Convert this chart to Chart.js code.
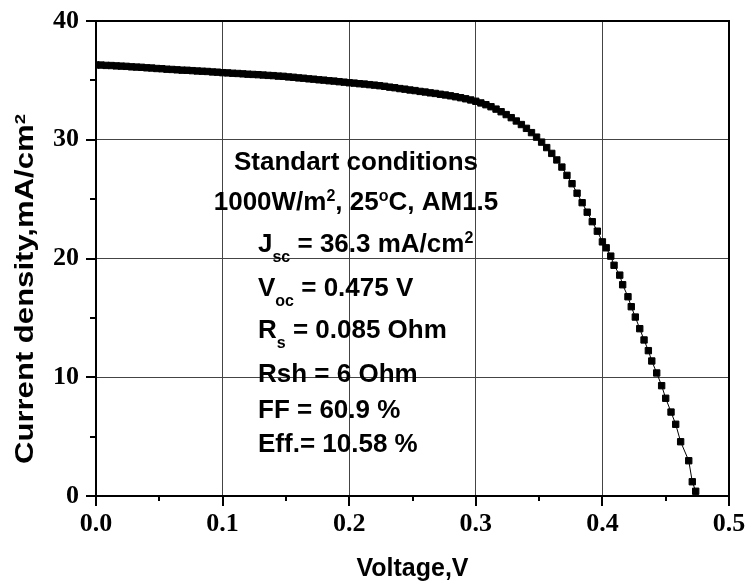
<!DOCTYPE html>
<html>
<head>
<meta charset="utf-8">
<script src="https://cdn.jsdelivr.net/npm/chart.js@4.4.0/dist/chart.umd.min.js"></script>
<style>
  body { margin: 0; background: #fff; }
  canvas { display: block; }
</style>
</head>
<body>
<canvas id="jv" width="747" height="586"></canvas>
<script>
// J-V curve
const voltage = [
  0.000, 0.004, 0.008, 0.012, 0.016, 0.020, 0.024, 0.028, 0.032, 0.036,
  0.040, 0.044, 0.048, 0.052, 0.056, 0.060, 0.064, 0.068, 0.072, 0.076,
  0.080, 0.084, 0.088, 0.092, 0.096, 0.100, 0.104, 0.108, 0.112, 0.116,
  0.120, 0.124, 0.128, 0.132, 0.136, 0.140, 0.144, 0.148, 0.152, 0.156,
  0.160, 0.164, 0.168, 0.172, 0.176, 0.180, 0.184, 0.188, 0.192, 0.196,
  0.200, 0.204, 0.208, 0.212, 0.216, 0.220, 0.224, 0.228, 0.232, 0.236,
  0.240, 0.244, 0.248, 0.252, 0.256, 0.260, 0.264, 0.268, 0.272, 0.276,
  0.280, 0.284, 0.288, 0.292, 0.296, 0.300, 0.304, 0.308, 0.312, 0.316,
  0.320, 0.324, 0.328, 0.332, 0.336, 0.340, 0.344, 0.348, 0.352, 0.356,
  0.360, 0.364, 0.368, 0.372, 0.376, 0.380, 0.384, 0.388, 0.392, 0.396,
  0.400, 0.4030, 0.4066, 0.4092, 0.4137, 0.4160, 0.4202, 0.4228, 0.4260, 0.4295,
  0.4329, 0.4363, 0.4390, 0.4429, 0.4468, 0.4500, 0.4542, 0.4579, 0.4618, 0.4682,
  0.4710, 0.4737
];
const currentDensity = [
  36.30, 36.29, 36.26, 36.25, 36.22, 36.20, 36.18, 36.14, 36.12, 36.10,
  36.06, 36.04, 36.00, 35.98, 35.94, 35.92, 35.89, 35.86, 35.85, 35.82,
  35.79, 35.77, 35.75, 35.71, 35.69, 35.65, 35.63, 35.60, 35.58, 35.55,
  35.52, 35.50, 35.48, 35.45, 35.42, 35.40, 35.36, 35.34, 35.29, 35.26,
  35.21, 35.18, 35.13, 35.10, 35.05, 35.02, 34.97, 34.94, 34.89, 34.85,
  34.80, 34.77, 34.72, 34.69, 34.64, 34.60, 34.55, 34.50, 34.43, 34.38,
  34.31, 34.26, 34.19, 34.14, 34.07, 34.02, 33.95, 33.90, 33.83, 33.77,
  33.70, 33.62, 33.54, 33.45, 33.35, 33.24, 33.10, 32.95, 32.78, 32.58,
  32.36, 32.12, 31.86, 31.58, 31.28, 30.96, 30.60, 30.22, 29.80, 29.34,
  28.85, 28.30, 27.70, 27.00, 26.30, 25.50, 24.70, 23.90, 23.10, 22.30,
  21.40, 20.90, 20.20, 19.43, 18.60, 17.79, 16.78, 15.94, 15.07, 14.09,
  13.14, 12.24, 11.37, 10.36, 9.29, 8.23, 7.07, 6.04, 4.57, 2.97,
  1.20, 0.40
];
const xTickLabels = ["0.0", "0.1", "0.2", "0.3", "0.4", "0.5"];
const yTickLabels = ["0", "10", "20", "30", "40"];
const xTitle = "Voltage,V";
const yTitle = [["Current density,mA/cm", "n"], ["2", "sup"]];
const infoLines = [
  [["Standart conditions", "n"]],
  [["1000W/m", "n"], ["2", "sup"], [", 25", "n"], ["o", "sup"], ["C, AM1.5", "n"]],
  [["J", "n"], ["sc", "sub"], [" = 36.3 mA/cm", "n"], ["2", "sup"]],
  [["V", "n"], ["oc", "sub"], [" = 0.475 V", "n"]],
  [["R", "n"], ["s", "sub"], [" = 0.085 Ohm", "n"]],
  [["Rsh = 6 Ohm", "n"]],
  [["FF = 60.9 %", "n"]],
  [["Eff.= 10.58 %", "n"]]
];

const SANS = '"Liberation Sans", Arial, sans-serif';
const SERIF = '"Liberation Serif", "Times New Roman", serif';

function isMajor(v, step) {
  return Math.abs(v / step - Math.round(v / step)) < 1e-6;
}

// text with sub/superscripts
function drawRich(ctx, parts, x, y, align, size) {
  const big = 'bold ' + size + 'px ' + SANS;
  const small = 'bold ' + Math.round(size * 0.6) + 'px ' + SANS;
  let w = richWidth(ctx, parts, size);
  let cx = align === 'center' ? x - w / 2 : x;
  ctx.textAlign = 'left';
  ctx.textBaseline = 'alphabetic';
  parts.forEach(p => {
    ctx.font = p[1] === 'n' ? big : small;
    const dy = p[1] === 'sub' ? size * 0.4 : p[1] === 'sup' ? -size * 0.34 : 0;
    ctx.fillText(p[0], cx, y + dy);
    cx += ctx.measureText(p[0]).width;
  });
}

function richWidth(ctx, parts, size) {
  let w = 0;
  parts.forEach(p => {
    ctx.font = 'bold ' + (p[1] === 'n' ? size : Math.round(size * 0.6)) + 'px ' + SANS;
    w += ctx.measureText(p[0]).width;
  });
  return w;
}

// fixed axis box, no extra room for overhanging labels
function fixBox(s, w, h) {
  if (w) s.width = w;
  if (h) s.height = h;
  s.paddingTop = 0; s.paddingBottom = 0; s.paddingLeft = 0; s.paddingRight = 0;
}

const framePlugin = {
  id: 'frame',
  afterDraw(chart) {
    const ctx = chart.ctx, a = chart.chartArea;
    const xs = chart.scales.x, ys = chart.scales.y;
    ctx.save();
    ctx.strokeStyle = '#000';
    ctx.lineWidth = 2;
    ctx.strokeRect(a.left, a.top, a.right - a.left, a.bottom - a.top);

    // outward ticks, long at labelled values
    ctx.beginPath();
    xs.ticks.forEach(t => {
      const px = Math.round(xs.getPixelForValue(t.value));
      const len = isMajor(t.value, 0.1) ? 10 : 5;
      ctx.moveTo(px, a.bottom);
      ctx.lineTo(px, a.bottom + len);
    });
    ys.ticks.forEach(t => {
      const py = Math.round(ys.getPixelForValue(t.value));
      const len = isMajor(t.value, 10) ? 10 : 6;
      ctx.moveTo(a.left, py);
      ctx.lineTo(a.left - len, py);
    });
    ctx.stroke();

    ctx.fillStyle = '#000';
    // axis titles
    ctx.font = 'bold 25px ' + SANS;
    ctx.textAlign = 'center';
    ctx.textBaseline = 'alphabetic';
    ctx.fillText(xTitle, (a.left + a.right) / 2, 576);

    const yw = richWidth(ctx, yTitle, 25);
    ctx.save();
    ctx.translate(33, 289);
    ctx.rotate(-Math.PI / 2);
    ctx.scale(350 / yw, 1);
    drawRich(ctx, yTitle, 0, 0, 'center', 25);
    ctx.restore();

    // info block
    const baselines = [170, 210, 252, 296, 338, 382, 418, 452];
    infoLines.forEach((line, i) => {
      if (i < 2) drawRich(ctx, line, 356, baselines[i], 'center', 26);
      else drawRich(ctx, line, 258, baselines[i], 'left', 26);
    });
    ctx.restore();
  }
};

new Chart(document.getElementById('jv'), {
  type: 'scatter',
  data: {
    datasets: [{
      data: voltage.map((v, i) => ({ x: v, y: currentDensity[i] })),
      showLine: true,
      borderColor: '#000',
      borderWidth: 1,
      backgroundColor: '#000',
      pointStyle: 'rect',
      pointRadius: 4.5,
      pointBorderWidth: 1,
      pointBorderColor: '#000',
      pointBackgroundColor: '#000'
    }]
  },
  options: {
    responsive: false,
    animation: false,
    layout: { padding: { top: 21, right: 18, left: 0, bottom: 0 } },
    plugins: { legend: { display: false }, tooltip: { enabled: false } },
    scales: {
      x: {
        type: 'linear',
        min: 0,
        max: 0.5,
        afterFit: s => fixBox(s, 0, 90),
        border: { display: true, color: '#000', width: 2 },
        grid: {
          drawTicks: false,
          lineWidth: 1,
          color: c => (c.tick && isMajor(c.tick.value, 0.1)) ? '#444' : 'rgba(0,0,0,0)'
        },
        ticks: {
          stepSize: 0.05,
          autoSkip: false,
          maxRotation: 0,
          padding: 13,
          color: '#000',
          font: { family: SERIF, size: 26, weight: 'bold' },
          callback: v => isMajor(v, 0.1) ? xTickLabels[Math.round(v * 10)] : ''
        }
      },
      y: {
        min: 0,
        max: 40,
        afterFit: s => fixBox(s, 96, 0),
        border: { display: true, color: '#000', width: 2 },
        grid: {
          drawTicks: false,
          lineWidth: 1,
          color: c => (c.tick && isMajor(c.tick.value, 10)) ? '#444' : 'rgba(0,0,0,0)'
        },
        ticks: {
          stepSize: 5,
          autoSkip: false,
          padding: 17,
          color: '#000',
          font: { family: SERIF, size: 26, weight: 'bold' },
          callback: v => isMajor(v, 10) ? yTickLabels[Math.round(v / 10)] : ''
        }
      }
    }
  },
  plugins: [framePlugin]
});
</script>
</body>
</html>
